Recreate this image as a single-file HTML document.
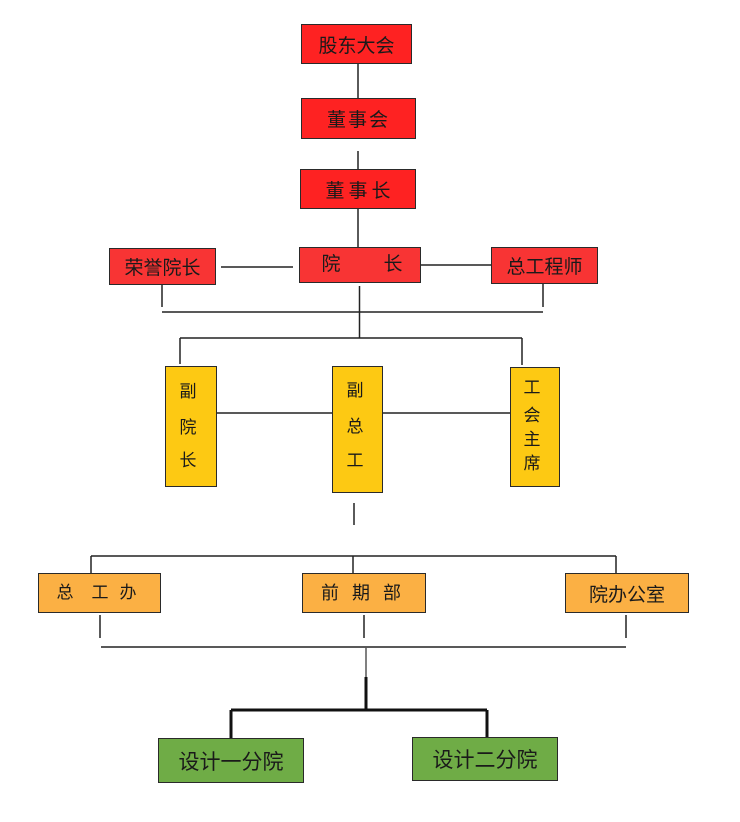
<!DOCTYPE html>
<html><head><meta charset="utf-8">
<style>
html,body{margin:0;padding:0;background:#fff;}
#c{position:relative;width:740px;height:822px;overflow:hidden;background:#fff;font-family:"Liberation Sans","Noto Sans CJK SC",sans-serif;color:#1a1a1a;}
.b{position:absolute;box-sizing:border-box;border:1.5px solid #2a2a2a;}
.r{background:#fe2222;}
.r2{background:#f83434;}
.y{background:#fdc913;}
.o{background:#fbb044;}
.g{background:#6fac46;}
.t{position:absolute;display:flex;align-items:center;justify-content:center;white-space:nowrap;}
.ch{position:absolute;width:24px;height:24px;line-height:24px;text-align:center;}
svg{position:absolute;left:0;top:0;}
</style></head><body>
<div id="c">
<svg width="740" height="822" viewBox="0 0 740 822">
<g stroke="#222" stroke-width="1.5" fill="none">
<line x1="358" y1="64" x2="358" y2="98"/>
<line x1="358" y1="151" x2="358" y2="169"/>
<line x1="358" y1="209" x2="358" y2="247"/>
<line x1="221" y1="267" x2="293" y2="267"/>
<line x1="421" y1="265" x2="491" y2="265"/>
<line x1="162" y1="285" x2="162" y2="307"/>
<line x1="543" y1="284" x2="543" y2="307"/>
<line x1="162" y1="312" x2="543" y2="312"/>
<line x1="359.5" y1="286" x2="359.5" y2="338"/>
<line x1="180" y1="338" x2="522" y2="338"/>
<line x1="180" y1="338" x2="180" y2="364"/>
<line x1="522" y1="338" x2="522" y2="365"/>
<line x1="217" y1="413" x2="510" y2="413"/>
<line x1="354" y1="503" x2="354" y2="525"/>
<line x1="91" y1="556" x2="616" y2="556"/>
<line x1="91" y1="556" x2="91" y2="573"/>
<line x1="353" y1="556" x2="353" y2="573"/>
<line x1="616" y1="556" x2="616" y2="573"/>
<line x1="100" y1="615" x2="100" y2="638"/>
<line x1="364" y1="615" x2="364" y2="638"/>
<line x1="626" y1="615" x2="626" y2="638"/>
<line x1="101" y1="647" x2="626" y2="647"/>
<line x1="366" y1="647" x2="366" y2="677" stroke="#555"/>
</g>
<g stroke="#111" stroke-width="3" fill="none">
<line x1="366" y1="677" x2="366" y2="711"/>
<line x1="231" y1="710" x2="487" y2="710"/>
<line x1="231" y1="710" x2="231" y2="738"/>
<line x1="487" y1="710" x2="487" y2="737"/>
</g>
</svg>

<!-- red -->
<div class="b r t" style="left:301px;top:24px;width:111px;height:40px;font-size:19px;">股东大会</div>
<div class="b r t" style="left:301px;top:98px;width:115px;height:41px;font-size:19px;letter-spacing:2px;">董事会</div>
<div class="b r t" style="left:300px;top:169px;width:116px;height:40px;font-size:19px;letter-spacing:4px;padding-left:4px;">董事长</div>
<div class="b r2" style="left:299px;top:247px;width:122px;height:36px;"></div>
<div class="ch" style="left:319px;top:253px;font-size:19px;">院</div>
<div class="ch" style="left:381px;top:253px;font-size:19px;">长</div>
<div class="b r2 t" style="left:109px;top:248px;width:107px;height:37px;font-size:19px;">荣誉院长</div>
<div class="b r2 t" style="left:491px;top:247px;width:107px;height:37px;font-size:19px;">总工程师</div>

<!-- yellow -->
<div class="b y" style="left:165px;top:366px;width:52px;height:121px;"></div>
<div class="ch" style="left:176px;top:380px;font-size:17px;">副</div>
<div class="ch" style="left:176px;top:416px;font-size:17px;">院</div>
<div class="ch" style="left:176px;top:449px;font-size:17px;">长</div>

<div class="b y" style="left:332px;top:366px;width:51px;height:127px;"></div>
<div class="ch" style="left:343px;top:379px;font-size:17px;">副</div>
<div class="ch" style="left:343px;top:415px;font-size:17px;">总</div>
<div class="ch" style="left:343px;top:449px;font-size:17px;">工</div>

<div class="b y" style="left:510px;top:367px;width:50px;height:120px;"></div>
<div class="ch" style="left:520px;top:376px;font-size:17px;">工</div>
<div class="ch" style="left:520px;top:404px;font-size:17px;">会</div>
<div class="ch" style="left:520px;top:428px;font-size:17px;">主</div>
<div class="ch" style="left:520px;top:452px;font-size:17px;">席</div>

<!-- orange -->
<div class="b o" style="left:38px;top:573px;width:123px;height:40px;"></div>
<div class="ch" style="left:53px;top:581px;font-size:17px;">总</div>
<div class="ch" style="left:88px;top:581px;font-size:17px;">工</div>
<div class="ch" style="left:116px;top:581px;font-size:17px;">办</div>

<div class="b o" style="left:302px;top:573px;width:124px;height:40px;"></div>
<div class="ch" style="left:318px;top:581px;font-size:18px;">前</div>
<div class="ch" style="left:349px;top:581px;font-size:18px;">期</div>
<div class="ch" style="left:380px;top:581px;font-size:18px;">部</div>

<div class="b o t" style="left:565px;top:573px;width:124px;height:40px;font-size:19px;">院办公室</div>

<!-- green -->
<div class="b g t" style="left:158px;top:738px;width:146px;height:45px;font-size:21px;">设计一分院</div>
<div class="b g t" style="left:412px;top:737px;width:146px;height:44px;font-size:21px;">设计二分院</div>
</div>
</body></html>
